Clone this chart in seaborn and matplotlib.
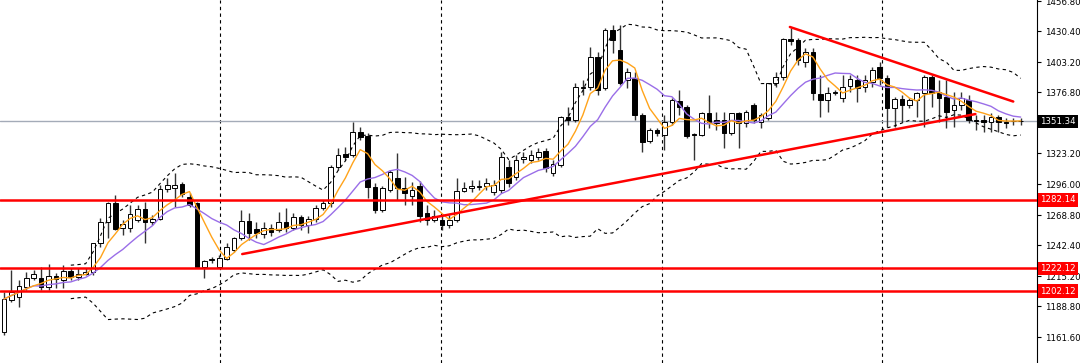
import numpy as np
import pandas as pd
import matplotlib
matplotlib.use("Agg")
import matplotlib.pyplot as plt
import seaborn as sns

# daily OHLC (138 candles)
opens = [1166.1, 1194.2, 1196.9, 1205.6, 1213.6, 1213.6, 1205.6, 1215.3, 1211.8, 1219.7,
         1214.4, 1217.1, 1218.8, 1244.3, 1262.7, 1279.4, 1257.5, 1257.5, 1264.5, 1274.2,
         1262.7, 1265.4, 1291.8, 1292.6, 1296.1, 1284.7, 1279.4, 1223.2, 1229.4, 1223.2,
         1230.2, 1238.1, 1248.7, 1263.6, 1256.6, 1252.2, 1257.5, 1255.7, 1262.7, 1257.5,
         1267.1, 1260.1, 1265.4, 1275.1, 1279.4, 1311.1, 1322.5, 1321.6, 1341.8, 1338.3,
         1293.5, 1273.3, 1290.9, 1301.4, 1292.6, 1285.6, 1294.4, 1270.7, 1264.5, 1264.5,
         1260.1, 1264.5, 1290.0, 1292.6, 1293.5, 1294.4, 1289.1, 1290.9, 1311.1, 1302.3,
         1318.1, 1317.2, 1319.9, 1325.1, 1305.8, 1312.8, 1355.0, 1352.4, 1380.5, 1381.4,
         1407.7, 1380.5, 1431.4, 1413.9, 1387.5, 1389.3, 1356.8, 1333.9, 1343.6, 1339.2,
         1350.6, 1369.1, 1363.8, 1340.1, 1339.2, 1358.5, 1352.4, 1352.4, 1341.0, 1358.5,
         1349.7, 1365.5, 1350.6, 1354.1, 1384.9, 1390.1, 1423.5, 1422.7, 1403.3, 1412.1,
         1375.2, 1369.9, 1376.1, 1371.7, 1382.2, 1387.5, 1381.4, 1385.8, 1398.9, 1389.3,
         1362.9, 1370.8, 1365.5, 1369.9, 1376.1, 1390.1, 1377.0, 1372.6, 1361.2, 1365.5,
         1369.9, 1352.4, 1352.4, 1350.6, 1355.0, 1350.6, 1351.5, 1351.5]
highs = [1201.3, 1220.6, 1211.8, 1218.8, 1220.6, 1223.2, 1225.9, 1217.9, 1225.0, 1222.3,
         1222.3, 1222.3, 1244.3, 1266.3, 1280.3, 1286.5, 1264.5, 1277.7, 1277.7, 1280.3,
         1268.9, 1295.3, 1301.4, 1305.8, 1297.9, 1288.2, 1280.3, 1229.4, 1232.0, 1233.8,
         1244.3, 1249.6, 1273.3, 1270.7, 1262.7, 1262.7, 1261.0, 1271.5, 1275.1, 1270.7,
         1268.9, 1268.0, 1277.7, 1282.1, 1312.8, 1327.8, 1328.6, 1350.6, 1346.2, 1341.0,
         1297.0, 1294.4, 1308.4, 1323.4, 1302.3, 1297.9, 1298.8, 1277.7, 1273.3, 1268.9,
         1268.9, 1301.4, 1297.9, 1299.7, 1299.7, 1301.4, 1299.7, 1324.3, 1317.2, 1321.6,
         1324.3, 1326.0, 1327.8, 1327.8, 1317.2, 1355.9, 1363.8, 1384.9, 1387.5, 1416.5,
         1412.1, 1433.2, 1435.8, 1435.8, 1398.1, 1394.5, 1358.5, 1345.3, 1345.3, 1356.8,
         1371.7, 1378.7, 1365.5, 1341.0, 1359.4, 1374.3, 1359.4, 1359.4, 1358.5, 1359.4,
         1361.2, 1367.3, 1358.5, 1384.9, 1394.5, 1424.4, 1433.2, 1424.4, 1415.6, 1415.6,
         1391.9, 1381.4, 1378.7, 1391.9, 1391.9, 1391.9, 1391.9, 1398.9, 1403.3, 1391.9,
         1372.6, 1374.3, 1371.7, 1377.0, 1391.9, 1391.9, 1387.5, 1387.5, 1377.0, 1377.0,
         1374.3, 1356.8, 1356.8, 1358.5, 1356.8, 1354.1, 1354.1, 1354.1]
lows = [1163.5, 1192.5, 1188.1, 1203.0, 1211.8, 1203.0, 1203.0, 1204.8, 1204.8, 1211.8,
        1211.8, 1216.2, 1216.2, 1240.8, 1248.7, 1255.7, 1251.3, 1254.0, 1262.7, 1244.3,
        1260.1, 1264.5, 1289.1, 1275.9, 1284.7, 1275.9, 1222.5, 1213.6, 1226.7, 1222.3,
        1229.4, 1236.4, 1246.9, 1246.9, 1248.7, 1248.7, 1250.5, 1254.0, 1254.0, 1255.7,
        1255.7, 1253.1, 1262.7, 1273.3, 1275.9, 1308.4, 1317.2, 1319.9, 1334.8, 1283.8,
        1270.7, 1271.5, 1289.1, 1282.1, 1277.7, 1277.7, 1262.7, 1260.1, 1262.7, 1255.7,
        1257.5, 1262.7, 1289.1, 1289.1, 1290.9, 1290.9, 1286.5, 1288.2, 1293.5, 1299.7,
        1314.6, 1314.6, 1317.2, 1306.7, 1303.2, 1311.1, 1348.0, 1350.6, 1374.3, 1378.7,
        1374.3, 1378.7, 1411.2, 1383.1, 1380.5, 1352.4, 1324.3, 1332.2, 1338.3, 1326.0,
        1348.0, 1356.8, 1336.6, 1317.2, 1338.3, 1345.3, 1343.6, 1327.8, 1339.2, 1327.8,
        1346.2, 1349.7, 1345.3, 1352.4, 1381.4, 1387.5, 1418.3, 1400.7, 1398.9, 1369.9,
        1355.0, 1359.4, 1374.3, 1368.2, 1377.0, 1368.2, 1377.0, 1381.4, 1383.1, 1346.2,
        1346.2, 1350.6, 1362.9, 1355.0, 1346.2, 1363.8, 1350.6, 1345.3, 1346.2, 1361.2,
        1349.7, 1343.6, 1341.8, 1341.8, 1341.8, 1345.3, 1348.0, 1348.0]
closes = [1195.1, 1201.3, 1206.5, 1213.6, 1217.1, 1205.6, 1215.3, 1212.7, 1219.7, 1214.4,
          1217.1, 1218.8, 1244.3, 1262.7, 1279.4, 1256.6, 1261.0, 1269.8, 1274.2, 1262.7,
          1265.4, 1291.8, 1295.3, 1295.3, 1287.4, 1277.7, 1223.2, 1228.5, 1230.2, 1231.1,
          1240.8, 1248.7, 1263.6, 1253.1, 1253.1, 1257.5, 1254.0, 1262.7, 1257.5, 1267.1,
          1260.1, 1265.4, 1275.1, 1279.4, 1311.1, 1321.6, 1319.9, 1341.8, 1337.4, 1293.5,
          1273.3, 1292.6, 1306.7, 1292.6, 1288.2, 1290.9, 1268.0, 1264.5, 1268.0, 1260.1,
          1264.5, 1290.0, 1292.6, 1294.4, 1294.4, 1297.0, 1295.3, 1319.9, 1297.0, 1317.2,
          1319.9, 1321.6, 1324.3, 1310.2, 1313.7, 1355.0, 1352.4, 1381.4, 1381.4, 1407.7,
          1378.7, 1431.4, 1422.7, 1384.9, 1394.5, 1356.8, 1333.0, 1343.6, 1341.0, 1350.6,
          1369.9, 1363.8, 1338.3, 1339.2, 1358.5, 1350.6, 1349.7, 1341.0, 1358.5, 1349.7,
          1359.4, 1352.4, 1356.8, 1384.9, 1390.1, 1423.5, 1421.8, 1405.1, 1412.1, 1376.1,
          1369.9, 1376.1, 1377.0, 1381.4, 1388.4, 1380.5, 1387.5, 1396.3, 1389.3, 1362.9,
          1370.8, 1365.5, 1369.9, 1376.1, 1390.1, 1376.1, 1371.7, 1359.4, 1365.5, 1371.7,
          1352.4, 1351.5, 1350.6, 1355.0, 1350.6, 1349.7, 1351.2, 1351.34]

# price scale labels on the right
price_ticks = [1456.80, 1430.40, 1403.20, 1376.80, 1323.20, 1296.00,
               1268.80, 1242.40, 1215.20, 1188.80, 1161.60]
last_price = 1351.34
levels = [1282.14, 1222.12, 1202.12]

# trend lines: (bar index, price) end points
support_bars = [32.1, 130.9]
support_prices = [1234.6, 1357.6]
resist_bars = [105.9, 136.0]
resist_prices = [1434.1, 1368.6]

# ---- indicators from closes ----
df = pd.DataFrame({"o": opens, "h": highs, "l": lows, "c": closes})
df["bar"] = np.arange(len(df))
df["ma_fast"] = df["c"].rolling(5, min_periods=1).mean()
df["ma_slow"] = df["c"].rolling(10, min_periods=1).mean()
mid = df["c"].rolling(20, min_periods=10).mean()
sd = df["c"].rolling(20, min_periods=10).std(ddof=0)
df["bb_up"] = mid + 2 * sd
df["bb_dn"] = mid - 2 * sd

sns.set_style("white")
plt.rcParams["font.family"] = ["DejaVu Sans"]

fig = plt.figure(figsize=(10.8, 3.63), dpi=100)
ax = fig.add_axes([0, 0, 1037 / 1080, 1])

# grid separators
for gx in [29.1, 58.9, 88.6, 118.3]:
    ax.axvline(gx, color="black", lw=0.8, ls=(0, (3, 3)), zorder=1)

ax.axhline(last_price, color="#a4abb8", lw=1, zorder=1)

# candles
up = df["c"] >= df["o"]
bottom = df[["o", "c"]].min(axis=1)
height = (df["c"] - df["o"]).abs().clip(lower=0.3)
ax.vlines(df["bar"], df["l"], df["h"], color="#333333", lw=1, zorder=2)
ax.bar(df["bar"][up], height[up], bottom=bottom[up], width=0.62,
       color="white", edgecolor="black", linewidth=0.7, zorder=3)
ax.bar(df["bar"][~up], height[~up], bottom=bottom[~up], width=0.62,
       color="black", edgecolor="black", linewidth=0.7, zorder=3)

# moving averages and bands
sns.lineplot(data=df, x="bar", y="bb_up", color="black", lw=0.8,
             linestyle=(0, (3, 3)), ax=ax, zorder=4)
sns.lineplot(data=df, x="bar", y="bb_dn", color="black", lw=0.8,
             linestyle=(0, (3, 3)), ax=ax, zorder=4)
sns.lineplot(data=df, x="bar", y="ma_slow", color="#9a6ee8", lw=1, ax=ax, zorder=4)
sns.lineplot(data=df, x="bar", y="ma_fast", color="#ffa31a", lw=1, ax=ax, zorder=5)

# horizontal levels and trend lines
for lv in levels:
    ax.axhline(lv, color="#ff0000", lw=1.8, zorder=6)
sns.lineplot(x=support_bars, y=support_prices, color="#ff0000", lw=1.8, ax=ax, zorder=6)
sns.lineplot(x=resist_bars, y=resist_prices, color="#ff0000", lw=1.8, ax=ax, zorder=6)

ax.set_xlim(-0.54, 139.2)
ax.set_ylim(1138.9, 1457.8)
ax.set_xlabel("")
ax.set_ylabel("")
ax.set_xticks([])

ax.yaxis.tick_right()
ax.set_yticks(price_ticks)
ax.set_yticklabels([f"{p:.2f}" for p in price_ticks])
ax.tick_params(axis="y", direction="out", length=3, width=0.8, pad=3,
               labelsize=6.2, colors="black", right=True, left=False)

for side in ["left", "top", "bottom"]:
    ax.spines[side].set_visible(False)
ax.spines["right"].set_color("black")
ax.spines["right"].set_linewidth(0.8)

# price tags on the scale
tags = [(last_price, "black")] + [(lv, "#ff0000") for lv in levels]
for p, col in tags:
    ax.annotate(f"{p:.2f}", xy=(1, p), xycoords=ax.get_yaxis_transform(),
                xytext=(2.5, 0), textcoords="offset points", va="center", ha="left",
                fontsize=6.2, color="white", annotation_clip=False, zorder=10,
                bbox=dict(boxstyle="square,pad=0.25", fc=col, ec="none"))

fig.savefig("out.png", dpi=100)
